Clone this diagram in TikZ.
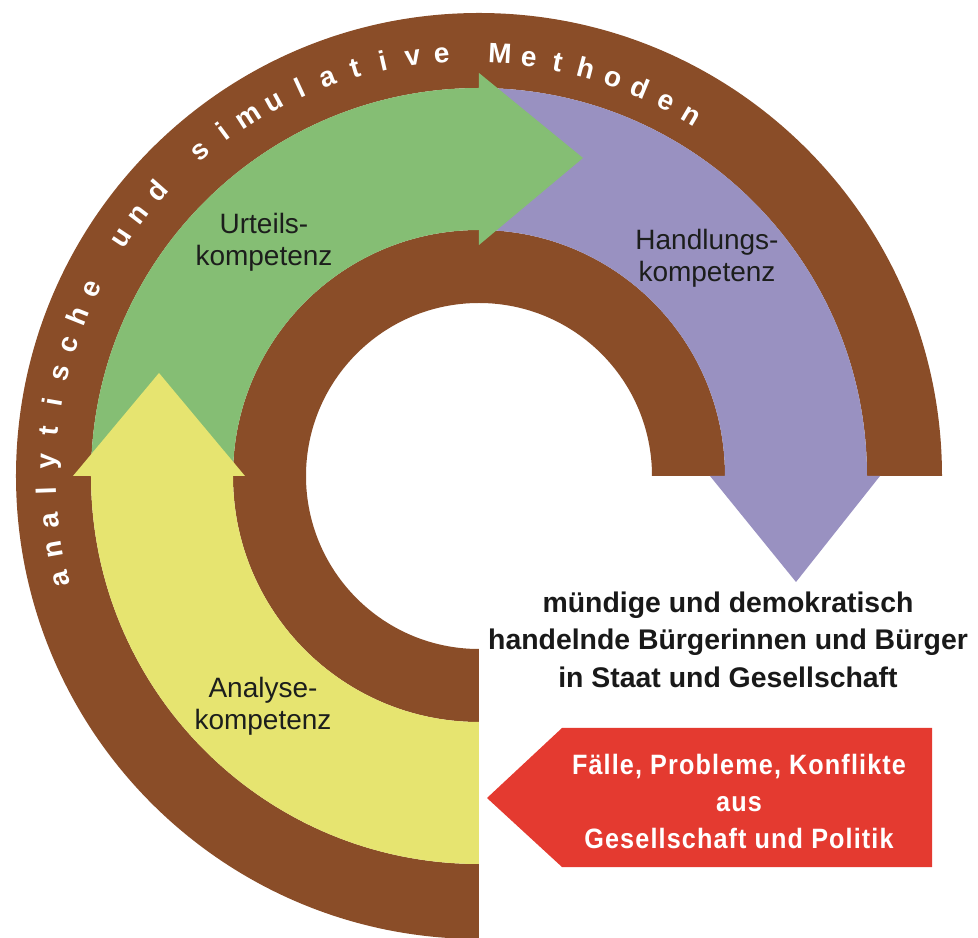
\documentclass[tikz,border=0pt]{standalone}
\usepackage{fontspec}
\setmainfont{Liberation Sans}
\newfontfamily\redfont[FakeStretch=0.9,LetterSpace=4]{Liberation Sans}
\definecolor{ringbrown}{RGB}{138,77,40}
\definecolor{bandgreen}{RGB}{133,190,116}
\definecolor{bandpurple}{RGB}{153,145,193}
\definecolor{bandyellow}{RGB}{230,228,112}
\definecolor{boxred}{RGB}{228,58,48}
\definecolor{labeltext}{RGB}{28,30,28}
\begin{document}
\begin{tikzpicture}[x=0.75pt,y=0.75pt,
  bandlabel/.style={align=center, font=\fontsize{21}{24}\selectfont, text=labeltext, inner sep=0pt},
  goaltext/.style={align=center, font=\fontsize{21.3}{28.2}\selectfont\bfseries, text=black!90, inner sep=0pt},
  redtext/.style={align=center, font=\fontsize{21}{27.5}\redfont\bfseries, text=white, inner sep=0pt},
  arcletter/.style={text=white, font=\fontsize{21}{21}\selectfont\bfseries, inner sep=0pt}]
\useasboundingbox (-479,-462) rectangle (499,476);

% outer brown ring
\fill[ringbrown] (0:463) arc[start angle=0,end angle=270,radius=463]
  -- (270:388) arc[start angle=270,end angle=0,radius=388] -- cycle;
% inner brown ring
\fill[ringbrown] (0:246) arc[start angle=0,end angle=270,radius=246]
  -- (270:173) arc[start angle=270,end angle=0,radius=173] -- cycle;

% purple band with downward arrow head
\fill[bandpurple] (90:388) arc[start angle=90,end angle=0,radius=388]
  -- (401,0) -- (317,-106) -- (231,0)
  -- (0:246) arc[start angle=0,end angle=90,radius=246] -- cycle;
% green band with arrow head to the right
\fill[bandgreen] (180:388) arc[start angle=180,end angle=90,radius=388]
  -- (0,403) -- (104,318) -- (0,231)
  -- (90:246) arc[start angle=90,end angle=180,radius=246] -- cycle;
% yellow band with upward arrow head
\fill[bandyellow] (270:388) arc[start angle=270,end angle=180,radius=388]
  -- (-406,0) -- (-320,103) -- (-234,0)
  -- (180:246) arc[start angle=180,end angle=270,radius=246] -- cycle;

% red arrow
\fill[boxred] (8,-322) -- (83,-252) -- (453,-252) -- (453,-391) -- (83,-391) -- cycle;

% labels
\node[bandlabel] (urteil) at (-215,234) {Urteils-\\kompetenz};
\node[bandlabel] (handlung) at (228,217.5) {Handlungs-\\kompetenz};
\node[bandlabel] (analyse) at (-216,-230.5) {Analyse-\\kompetenz};
\node[goaltext] (goal) at (249,-163.5) {mündige und demokratisch\\handelnde Bürgerinnen und Bürger\\in Staat und Gesellschaft};
\node[redtext] (faelle) at (260,-325.5) {Fälle, Probleme, Konflikte\\aus\\Gesellschaft und Politik};

% text along the outer ring
\foreach \ch/\k in {a/0,n/1,a/2,l/3,y/4,t/5,i/6,s/7,c/8,h/9,e/10,
  u/12,n/13,d/14,
  s/16,i/17,m/18,u/19,l/20,a/21,t/22,i/23,v/24,e/25,
  M/27,e/28,t/29,h/30,o/31,d/32,e/33,n/34}{
  \pgfmathsetmacro\ang{193.8-3.95*\k}
  \pgfmathsetmacro\rad{414-9*cos(\ang)}
  \node[arcletter, anchor=base, rotate=\ang-90] (m\k) at (\ang:\rad) {\ch};
}
\end{tikzpicture}
\end{document}
